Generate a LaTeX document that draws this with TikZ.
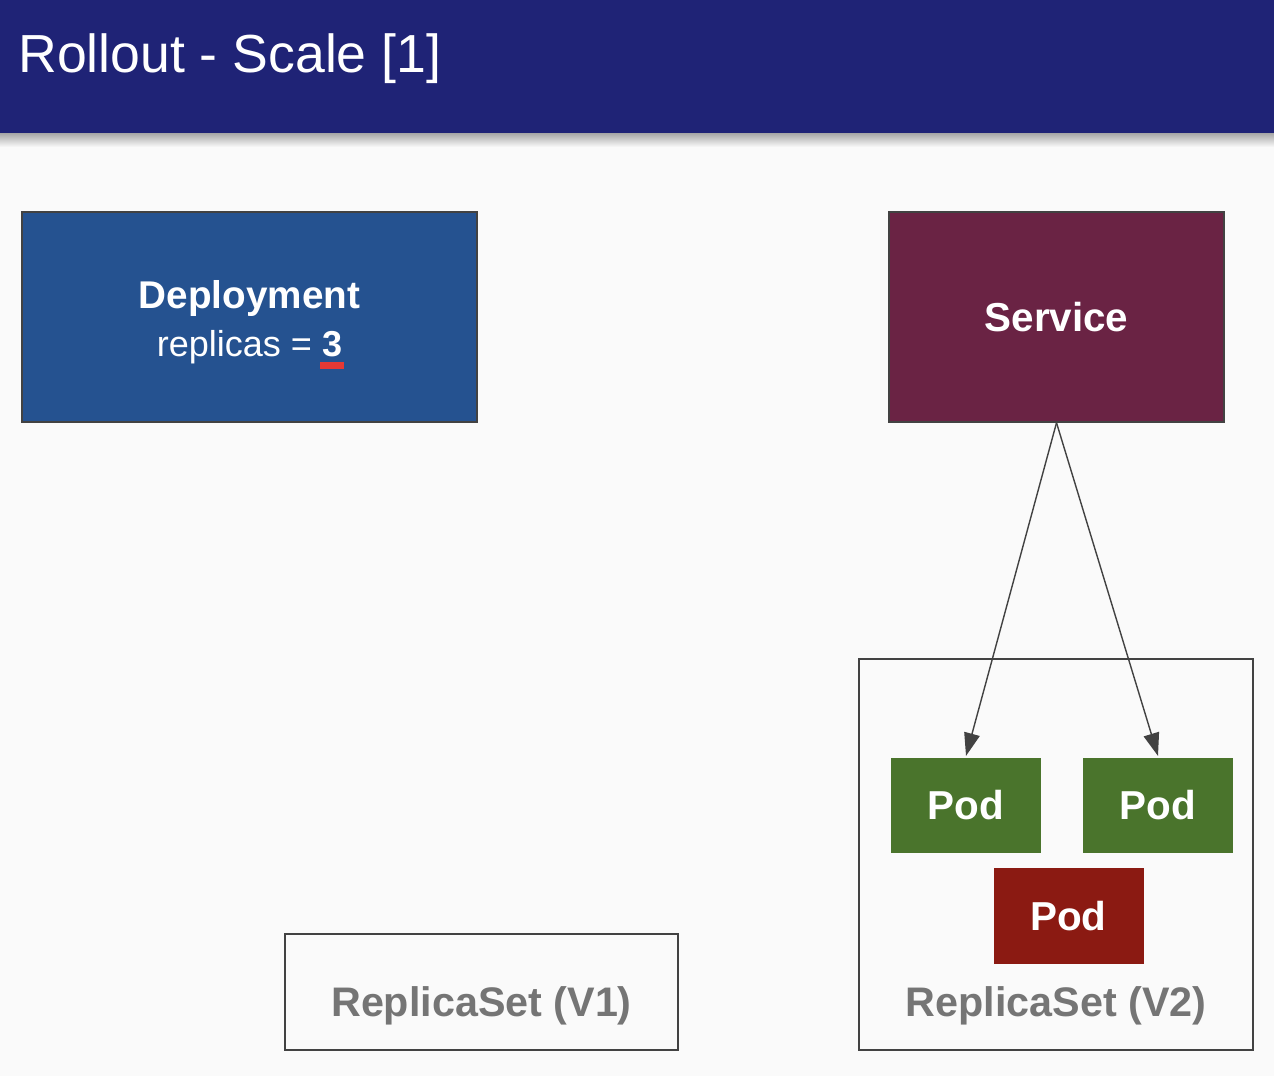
\documentclass[tikz,border=0pt]{standalone}
\usepackage{fontspec}
\setmainfont{Liberation Sans}
\definecolor{bar}{HTML}{1F2376}
\definecolor{bg}{HTML}{FAFAFA}
\definecolor{depl}{HTML}{255290}
\definecolor{svc}{HTML}{6A2344}
\definecolor{podok}{HTML}{4A742C}
\definecolor{podbad}{HTML}{8B1A12}
\definecolor{edge}{HTML}{424242}
\definecolor{lbl}{HTML}{757575}
\definecolor{mark}{HTML}{E53935}
\newsavebox\digitbox
\newcommand\redbar[1]{\sbox\digitbox{#1}\rlap{\hspace{-1pt}\color{mark}\rule[-7.4pt]{\dimexpr\wd\digitbox+2pt}{4pt}}\usebox\digitbox}
\tikzset{
  box/.style={draw=edge, line width=0.9pt, text=white, inner sep=0pt},
  pod/.style={fill=#1, text=white, minimum width=3cm, minimum height=1.9cm,
    font=\fontsize{23}{27}\selectfont\bfseries, inner sep=0pt},
  rs/.style={draw=edge, line width=0.9pt, inner sep=0pt},
  rslabel/.style={text=lbl, font=\fontsize{23.5}{27}\selectfont\bfseries},
  link/.style={draw=edge, line width=0.8pt, -{Triangle[length=13pt,width=9pt]}}
}
\usetikzlibrary{arrows.meta}
\begin{document}
\begin{tikzpicture}[x=0.02cm, y=-0.02cm]
    \useasboundingbox (0,0) rectangle (1274,1076);
    \fill[bg] (0,0) rectangle (1274,1076);

    % header
    \shade[top color=black!35, bottom color=bg] (0,133) rectangle (1274,147);
    \fill[bar] (0,0) rectangle (1274,133);
    \node[anchor=base west, text=white, inner sep=0pt, font=\fontsize{30.5}{36}\selectfont] (title) at (18,72) {Rollout - Scale [1]};

    \node[box, fill=depl, minimum width=9.1cm, minimum height=4.2cm, align=center,
      font=\fontsize{20.5}{27}\selectfont] (deploy) at (249.5,317)
      {\rule{0pt}{22pt}{\fontsize{22}{27}\selectfont\bfseries Deployment}\\replicas = \smash{\redbar{\bfseries 3}}};
    \node[box, fill=svc, minimum width=6.7cm, minimum height=4.2cm,
      font=\fontsize{23}{27}\selectfont\bfseries] (service) at (1056.5,317) {Service};

    \node[rs, minimum width=7.88cm, minimum height=7.82cm] (rs2) at (1056,854.5) {};
    \node[rs, minimum width=7.86cm, minimum height=2.32cm] (rs1) at (481.5,992) {};
    \node[rslabel] (rs1lbl) at (481.5,1006) {ReplicaSet (V1)};
    \node[rslabel] (rs2lbl) at (1056,1006) {ReplicaSet (V2)};

    \node[pod=podok] (pod1) at (966,805.5) {Pod};
    \node[pod=podok] (pod2) at (1158,805.5) {Pod};
    \node[pod=podbad, minimum height=1.92cm] (pod3) at (1068.5,916) {Pod};

    \draw[link] (service.south) -- ([yshift=1pt]pod1.north);
    \draw[link] (service.south) -- ([yshift=1pt]pod2.north);
\end{tikzpicture}
\end{document}
